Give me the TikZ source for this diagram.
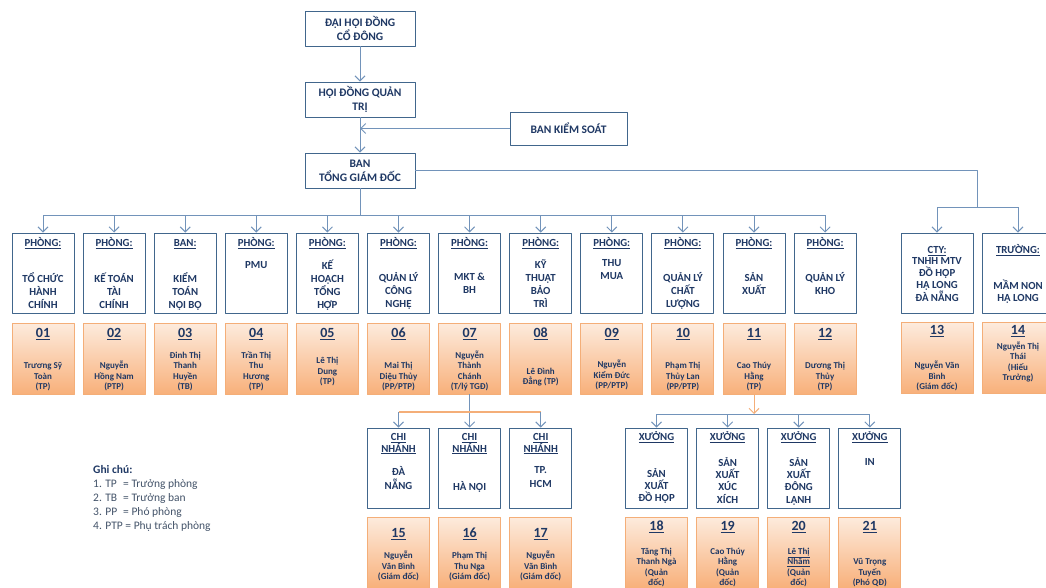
\documentclass[tikz,border=0pt]{standalone}
\usepackage{fontspec}
\setmainfont{Carlito}
\usetikzlibrary{arrows.meta,positioning}
\definecolor{navy}{HTML}{1F3864}
\definecolor{frameblue}{HTML}{41668C}
\definecolor{linkblue}{HTML}{7293BA}
\definecolor{peachtop}{HTML}{FDEBDD}
\definecolor{peachbot}{HTML}{F8B07A}
\definecolor{peachline}{HTML}{F4AE78}
\definecolor{notegray}{HTML}{44546A}
\tikzset{
  deptbox/.style={draw=frameblue, line width=0.9pt, fill=white, minimum width=62pt, minimum height=80pt, inner sep=0pt},
  staffbox/.style={draw=peachline, line width=0.9pt, top color=peachtop, bottom color=peachbot, minimum width=62pt, minimum height=71pt, inner sep=0pt},
  topbox/.style={draw=frameblue, line width=0.9pt, fill=white, minimum width=110pt, minimum height=35pt, inner sep=0pt, text=navy, align=center, font=\bfseries\fontsize{11.5}{14}\selectfont},
  headtxt/.style={text=navy, inner sep=0pt, anchor=base, font=\bfseries\fontsize{10.8}{13}\selectfont},
  bodytxt/.style={text=navy, inner sep=0pt, anchor=north, align=center, font=\bfseries\fontsize{10.8}{13}\selectfont, execute at begin node=\strut},
  numtxt/.style={text=navy, inner sep=0pt, anchor=base, font=\bfseries\fontsize{14}{14}\selectfont},
  whotxt/.style={text=navy, inner sep=0pt, anchor=south, align=center, font=\bfseries\fontsize{9}{10.5}\selectfont, execute at end node=\strut},
  notetxt/.style={text=notegray, inner sep=0pt, anchor=north west, align=left, font=\fontsize{11.5}{14}\selectfont, execute at begin node=\strut},
  wire/.style={draw=linkblue, line width=1pt},
  conn/.style={wire, -{Straight Barb[length=5pt,width=10pt]}},
}
\begin{document}
\begin{tikzpicture}[x=1pt, y=-1pt, line join=round]
\path[use as bounding box, fill=white] (0,0) rectangle (1046,587);
\path
  (0,215) coordinate (bus)
  (977,207) coordinate (fork)
  (0,412) coordinate (obus)
  (0,414) coordinate (xbus)
  ;
\node[topbox] (dhcd) at (360,28.5) {ĐẠI HỘI ĐỒNG\\CỔ ĐÔNG};
\node[topbox] (hdqt) at (360,99.5) {HỘI ĐỒNG QUẢN\\TRỊ};
\node[topbox] (tgd) at (360,170.5) {BAN\\TỔNG GIÁM ĐỐC};
\node[topbox, minimum width=117pt, minimum height=33pt] (bks) at (568.5,128.5) {BAN KIỂM SOÁT};
\draw[conn] (dhcd) -- (hdqt);
\draw[conn] (hdqt) -- (tgd);
\draw[conn] (bks) -- (bks -| hdqt.south);
\draw[wire] (tgd.south) -- (tgd.south |- bus);
\foreach \head/\body/\by/\staff/\sy [count=\i] in {
  PHÒNG:/{TỔ CHỨC\\HÀNH\\CHÍNH}/278/{Trương Sỹ\\Toàn\\(TP)}/387,
  PHÒNG:/{KẾ TOÁN\\TÀI\\CHÍNH}/278/{Nguyễn\\Hồng Nam\\(PTP)}/387,
  BAN:/{KIỂM\\TOÁN\\NỘI BỘ}/278/{Đinh Thị\\Thanh\\Huyền\\(TB)}/387,
  PHÒNG:/PMU/265/{Trần Thị\\Thu\\Hương\\(TP)}/387,
  PHÒNG:/{KẾ\\HOẠCH\\TỔNG\\HỢP}/265/{Lê Thị\\Dung\\(TP)}/382,
  PHÒNG:/{QUẢN LÝ\\CÔNG\\NGHỆ}/278/{Mai Thị\\Diệu Thủy\\(PP/PTP)}/387,
  PHÒNG:/{MKT \&\\BH}/278/{Nguyễn\\Thành\\Chánh\\(T/lý TGĐ)}/387,
  PHÒNG:/{KỸ\\THUẬT\\BẢO\\TRÌ}/265/{Lê Đình\\Đẳng (TP)}/382,
  PHÒNG:/{THU\\MUA}/265/{Nguyễn\\Kiểm Đức\\(PP/PTP)}/386,
  PHÒNG:/{QUẢN LÝ\\CHẤT\\LƯỢNG}/278/{Phạm Thị\\Thủy Lan\\(PP/PTP)}/387,
  PHÒNG:/{SẢN\\XUẤT}/278/{Cao Thúy\\Hằng\\(TP)}/387,
  PHÒNG:/{QUẢN LÝ\\KHO}/278/{Dương Thị\\Thủy\\(TP)}/387}
{
  \pgfmathsetmacro\x{43+(\i-1)*71.1}
  \node[deptbox] (d\i) at (\x,273) {};
  \node[headtxt] (dh\i) at (\x,243+3.5) {\underline{\head}};
  \node[bodytxt] (db\i) at (\x,\by-5.6) {\body};
  \node[staffbox] (s\i) at (\x,358.5) {};
  \node[numtxt] (sn\i) at (\x,333+4.4) {\underline{\ifnum\i<10 0\fi\i}};
  \node[whotxt] (sw\i) at (\x,\sy+6) {\staff};
  \draw[conn] (d\i.north |- bus) -- (d\i.north);
}
\draw[wire] (d1.north |- bus) -- (d12.north |- bus);
\foreach \head/\body/\by/\staff/\sy/\x [count=\k from 13] in {
  CTY:/{TNHH MTV\\ĐỒ HỘP\\HẠ LONG\\ĐÀ NẴNG}/262/{Nguyễn Văn\\Bình\\(Giám đốc)}/387/937,
  TRƯỜNG:/{MẦM NON\\HẠ LONG}/285/{Nguyễn Thị\\Thái\\(Hiếu\\Trưởng)}/378/1018}
{
  \node[deptbox, minimum width=72pt] (d\k) at (\x,273) {};
  \node[headtxt] (dh\k) at (\x,250+3.5) {\underline{\head}};
  \node[bodytxt, font=\bfseries\fontsize{10.8}{12}\selectfont] (db\k) at (\x,\by-5) {\body};
  \node[staffbox, minimum width=72pt] (s\k) at (\x,358) {};
  \node[numtxt] (sn\k) at (\x,330+4.4) {\underline{\k}};
  \node[whotxt] (sw\k) at (\x,\sy+6) {\staff};
  \draw[conn] (d\k.north |- fork) -- (d\k.north);
}
\draw[wire] (tgd.east) -| (fork);
\draw[wire] (d13.north |- fork) -- (d14.north |- fork);
\foreach \body/\by/\staff [count=\k from 15] in {
  {ĐÀ\\NẴNG}/473/{Nguyễn\\Văn Bình\\(Giám đốc)},
  {HÀ NỘI}/487/{Phạm Thị\\Thu Nga\\(Giám đốc)},
  {TP.\\HCM}/473/{Nguyễn\\Văn Bình\\(Giám đốc)}}
{
  \pgfmathsetmacro\x{43+(\k-10)*71.1}
  \node[deptbox] (c\k) at (\x,468) {};
  \node[bodytxt, font=\bfseries\fontsize{10.8}{12}\selectfont] (ch\k) at (\x,438-5) {\underline{CHI}\\\underline{NHÁNH}};
  \node[bodytxt, font=\bfseries\fontsize{10.8}{14}\selectfont] (cb\k) at (\x,\by-6.3) {\body};
  \node[staffbox] (cs\k) at (\x,552.5) {};
  \node[numtxt] (cn\k) at (\x,533+4.4) {\underline{\k}};
  \node[whotxt] (cw\k) at (\x,577+6) {\staff};
}
\draw[conn] (s7) -- (c16);
\draw[wire, draw=peachline, line width=1.5pt] (c15.north |- obus) -- (c17.north |- obus);
\draw[conn] (c15.north |- obus) -- (c15.north);
\draw[conn] (c17.north |- obus) -- (c17.north);
\foreach \body/\by/\staff [count=\k from 18] in {
  {SẢN\\XUẤT\\ĐỒ HỘP}/473/{Tăng Thị\\Thanh Ngà\\(Quản\\đốc)},
  {SẢN\\XUẤT\\XÚC\\XÍCH}/462/{Cao Thúy\\Hằng\\(Quản\\đốc)},
  {SẢN\\XUẤT\\ĐÔNG\\LẠNH}/462/{\underline{Lê Thị}\\\underline{Nhâm}\\(Quản\\đốc)},
  IN/462/{Vũ Trọng\\Tuyến\\(Phó QĐ)}}
{
  \pgfmathsetmacro\x{656.5+(\k-18)*71.1}
  \node[deptbox] (x\k) at (\x,468) {};
  \node[headtxt] (xh\k) at (\x,437+3.5) {\underline{XƯỞNG}};
  \node[bodytxt, font=\bfseries\fontsize{10.8}{12.4}\selectfont] (xb\k) at (\x,\by-5.2) {\body};
  \node[staffbox] (xs\k) at (\x,552.5) {};
  \node[numtxt] (xn\k) at (\x,526+4.4) {\underline{\k}};
  \node[whotxt] (xw\k) at (\x,583+6) {\staff};
  \draw[conn] (x\k.north |- xbus) -- (x\k.north);
}
\draw[conn, draw=peachline] (s11) -- (s11 |- xbus);
\draw[wire] (x18.north |- xbus) -- (x21.north |- xbus);
\node[notetxt] (note) at (93,465) {\textcolor{navy}{\textbf{Ghi chú:}}\\
  \makebox[30pt][l]{1. TP}= Trưởng phòng\\
  \makebox[30pt][l]{2. TB}= Trưởng ban\\
  \makebox[30pt][l]{3. PP}= Phó phòng\\
  4. PTP = Phụ trách phòng};
\end{tikzpicture}
\end{document}
